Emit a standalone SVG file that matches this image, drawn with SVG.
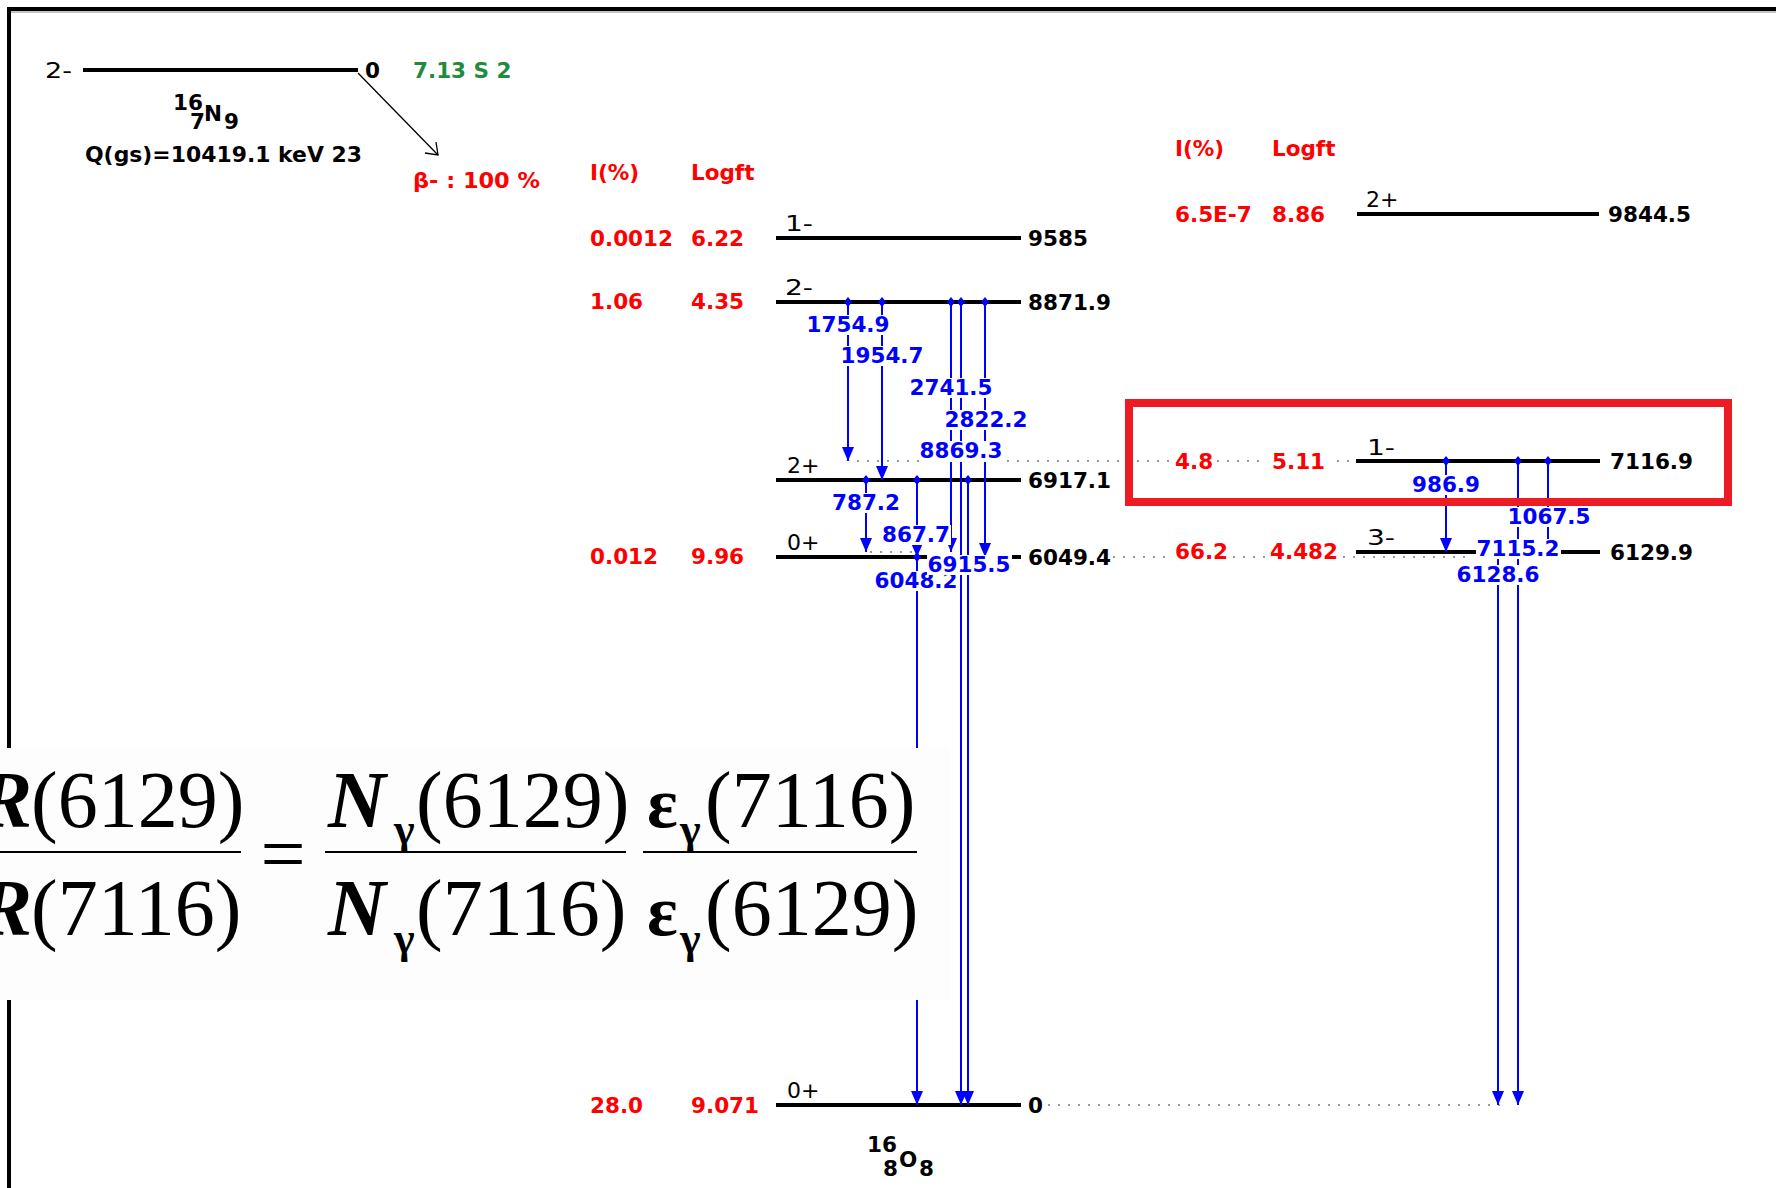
<svg xmlns="http://www.w3.org/2000/svg" width="1776" height="1188" viewBox="0 0 1776 1188">
<style>
  .num{font-family:"DejaVu Sans","Liberation Sans",sans-serif;font-weight:bold;font-size:21.5px;fill:#000}
  .spin{font-family:"DejaVu Sans","Liberation Sans",sans-serif;font-size:22px;fill:#000}
  .red{fill:#ff0000}
  .grn{fill:#228a3c}
  .gl{font-family:"DejaVu Sans","Liberation Sans",sans-serif;font-weight:bold;font-size:21.5px;fill:#0000ff;text-anchor:middle}
  .bg{fill:#fff}
  .lvl{stroke:#000;stroke-width:4}
  .dot{stroke:#999;stroke-width:2;stroke-dasharray:2 8}
  .g{stroke:#0000ff;stroke-width:2;fill:none;marker-start:url(#dia);marker-end:url(#arr)}
  .f{font-family:"Liberation Serif","Times New Roman",serif;font-size:80px;fill:#000}
  .fb{font-family:"Liberation Serif","Times New Roman",serif;font-weight:bold;font-style:italic;font-size:80px;fill:#000}
  .fs{font-family:"Liberation Serif","Times New Roman",serif;font-weight:bold;font-size:44px;fill:#000}
  .fe{font-family:"Liberation Serif","Times New Roman",serif;font-weight:bold;font-size:72px;fill:#000}
</style>
<defs>
  <marker id="arr" viewBox="0 0 14 12" refX="14" refY="6" markerWidth="14" markerHeight="12" markerUnits="userSpaceOnUse" orient="auto">
    <path d="M0,0 L14,6 L0,12 Z" fill="#0000ff"/>
  </marker>
  <marker id="dia" viewBox="0 0 10 8" refX="5" refY="4" markerWidth="10" markerHeight="8" markerUnits="userSpaceOnUse" orient="auto">
    <path d="M0,4 L5,0 L10,4 L5,8 Z" fill="#0000ff"/>
  </marker>
</defs>
<rect width="1776" height="1188" fill="#fff"/>

<g id="frame">
  <line x1="9" y1="9" x2="1776" y2="9" stroke="#000" stroke-width="4"/>
  <line x1="9" y1="12" x2="1776" y2="12" stroke="#888" stroke-width="1"/>
  <line x1="9" y1="7" x2="9" y2="1188" stroke="#000" stroke-width="4"/>
</g>

<g id="parent">
  <text x="45" y="78" class="spin" textLength="27" lengthAdjust="spacingAndGlyphs">2-</text>
  <line x1="83" y1="70" x2="358" y2="70" class="lvl"/>
  <text x="365" y="78" class="num">0</text>
  <text x="413" y="78" class="num grn">7.13 S 2</text>
  <text x="173" y="110" class="num" font-size="20">16</text>
  <text x="190" y="129" class="num" font-size="20">7</text>
  <text x="204" y="121" class="num">N</text>
  <text x="224" y="129" class="num" font-size="20">9</text>
  <text x="85" y="162" class="num" textLength="277" lengthAdjust="spacingAndGlyphs">Q(gs)=10419.1 keV 23</text>
  <line x1="358" y1="73" x2="438" y2="155" stroke="#000" stroke-width="1.3"/>
  <polyline points="425,153 438,155 436,142" fill="none" stroke="#000" stroke-width="1.3"/>
  <text x="413" y="188" class="num red" textLength="127" lengthAdjust="spacingAndGlyphs">β- : 100 %</text>
</g>

<g id="headers">
  <text x="590" y="180" class="num red">I(%)</text>
  <text x="691" y="180" class="num red">Logft</text>
  <text x="1175" y="156" class="num red">I(%)</text>
  <text x="1272" y="156" class="num red">Logft</text>
</g>

<g id="dotted">
  <line x1="857" y1="461" x2="1356" y2="461" class="dot"/>
  <line x1="870" y1="552" x2="917" y2="552" class="dot"/>
  <line x1="1113" y1="557" x2="1473" y2="557" class="dot"/>
  <line x1="1048" y1="1105" x2="1506" y2="1105" class="dot"/>
</g>

<g id="level-9585">
  <text x="590" y="246" class="num red">0.0012</text>
  <text x="691" y="246" class="num red">6.22</text>
  <text x="785" y="231" class="spin" textLength="28" lengthAdjust="spacingAndGlyphs">1-</text>
  <line x1="776" y1="238" x2="1021" y2="238" class="lvl"/>
  <text x="1028" y="246" class="num">9585</text>
</g>
<g id="level-8871.9">
  <text x="590" y="309" class="num red">1.06</text>
  <text x="691" y="309" class="num red">4.35</text>
  <text x="785" y="295" class="spin" textLength="28" lengthAdjust="spacingAndGlyphs">2-</text>
  <line x1="776" y1="302" x2="1021" y2="302" class="lvl"/>
  <text x="1028" y="310" class="num">8871.9</text>
</g>
<g id="level-6917.1">
  <text x="787" y="473" class="spin">2+</text>
  <line x1="776" y1="480" x2="1021" y2="480" class="lvl"/>
  <text x="1028" y="488" class="num">6917.1</text>
</g>
<g id="level-6049.4">
  <text x="590" y="564" class="num red">0.012</text>
  <text x="691" y="564" class="num red">9.96</text>
  <text x="787" y="550" class="spin">0+</text>
  <line x1="776" y1="557" x2="1021" y2="557" class="lvl"/>
  <text x="1028" y="565" class="num">6049.4</text>
</g>
<g id="level-0">
  <text x="590" y="1113" class="num red">28.0</text>
  <text x="691" y="1113" class="num red">9.071</text>
  <text x="787" y="1098" class="spin">0+</text>
  <line x1="776" y1="1105" x2="1021" y2="1105" class="lvl"/>
  <text x="1028" y="1113" class="num">0</text>
  <text x="867" y="1152" class="num" font-size="20">16</text>
  <text x="883" y="1176" class="num" font-size="20">8</text>
  <text x="899" y="1167" class="num">O</text>
  <text x="919" y="1176" class="num" font-size="20">8</text>
</g>
<g id="level-9844.5">
  <rect x="1171" y="204" width="160" height="22" class="bg"/>
  <text x="1175" y="222" class="num red">6.5E-7</text>
  <text x="1272" y="222" class="num red">8.86</text>
  <text x="1366" y="207" class="spin">2+</text>
  <line x1="1357" y1="214" x2="1599" y2="214" class="lvl"/>
  <text x="1608" y="222" class="num">9844.5</text>
</g>
<g id="level-7116.9">
  <rect x="1170" y="450" width="46" height="22" class="bg"/>
  <rect x="1267" y="450" width="62" height="22" class="bg"/>
  <text x="1175" y="469" class="num red">4.8</text>
  <text x="1272" y="469" class="num red">5.11</text>
  <text x="1367" y="455" class="spin" textLength="28" lengthAdjust="spacingAndGlyphs">1-</text>
  <line x1="1356" y1="461" x2="1600" y2="461" class="lvl"/>
  <text x="1610" y="469" class="num">7116.9</text>
</g>
<g id="level-6129.9">
  <rect x="1170" y="540" width="62" height="22" class="bg"/>
  <rect x="1265" y="540" width="78" height="22" class="bg"/>
  <text x="1175" y="559" class="num red">66.2</text>
  <text x="1270" y="559" class="num red">4.482</text>
  <text x="1367" y="545" class="spin" textLength="28" lengthAdjust="spacingAndGlyphs">3-</text>
  <line x1="1356" y1="552" x2="1600" y2="552" class="lvl"/>
  <text x="1610" y="560" class="num">6129.9</text>
</g>

<g id="connectors">
  <line x1="848" y1="302" x2="848" y2="461" class="g"/>
  <line x1="882" y1="302" x2="882" y2="480" class="g"/>
  <line x1="951" y1="302" x2="951" y2="552" class="g"/>
  <line x1="961" y1="302" x2="961" y2="1105" class="g"/>
  <line x1="985" y1="302" x2="985" y2="557" class="g"/>
  <line x1="866" y1="480" x2="866" y2="552" class="g"/>
  <line x1="917" y1="480" x2="917" y2="557" class="g"/>
  <line x1="968" y1="480" x2="968" y2="1105" class="g"/>
  <line x1="917" y1="557" x2="917" y2="1105" class="g"/>
  <line x1="1446" y1="461" x2="1446" y2="552" class="g"/>
  <line x1="1548" y1="461" x2="1548" y2="557" class="g"/>
  <line x1="1518" y1="461" x2="1518" y2="1105" class="g"/>
  <line x1="1498" y1="552" x2="1498" y2="1105" class="g"/>
</g>

<g id="gamma-labels">
  <rect x="806" y="315" width="85" height="20" class="bg"/><text x="848" y="332" class="gl">1754.9</text>
  <rect x="840" y="346" width="85" height="20" class="bg"/><text x="882" y="363" class="gl">1954.7</text>
  <rect x="909" y="378" width="85" height="20" class="bg"/><text x="951" y="395" class="gl">2741.5</text>
  <rect x="944" y="410" width="85" height="20" class="bg"/><text x="986" y="427" class="gl">2822.2</text>
  <rect x="919" y="441" width="85" height="21" class="bg"/><text x="961" y="458" class="gl">8869.3</text>
  <rect x="831" y="493" width="70" height="20" class="bg"/><text x="866" y="510" class="gl">787.2</text>
  <rect x="881" y="525" width="70" height="20" class="bg"/><text x="916" y="542" class="gl">867.7</text>
  <rect x="874" y="571" width="85" height="20" class="bg"/><text x="916" y="588" class="gl">6048.2</text>
  <rect x="927" y="555" width="85" height="20" class="bg"/><text x="969" y="572" class="gl">6915.5</text>
  <rect x="1411" y="475" width="70" height="20" class="bg"/><text x="1446" y="492" class="gl">986.9</text>
  <rect x="1507" y="507" width="85" height="20" class="bg"/><text x="1549" y="524" class="gl">1067.5</text>
  <rect x="1476" y="539" width="85" height="20" class="bg"/><text x="1518" y="556" class="gl">7115.2</text>
  <rect x="1456" y="565" width="85" height="20" class="bg"/><text x="1498" y="582" class="gl">6128.6</text>
</g>

<g id="formula">
  <rect x="0" y="748" width="950" height="252" fill="#fdfdfd"/>
  <text x="32" y="827" class="fb" text-anchor="end">R</text>
  <text x="31" y="827" class="f">(6129)</text>
  <line x1="0" y1="852" x2="241" y2="852" stroke="#000" stroke-width="2"/>
  <text x="32" y="935" class="fb" text-anchor="end">R</text>
  <text x="31" y="935" class="f">(7116)</text>
  <text x="283" y="881" class="f" text-anchor="middle">=</text>
  <text x="328" y="827" class="fb">N</text>
  <text x="394" y="844" class="fs">γ</text>
  <text x="416" y="827" class="f">(6129)</text>
  <line x1="325" y1="852" x2="626" y2="852" stroke="#000" stroke-width="2"/>
  <text x="328" y="935" class="fb">N</text>
  <text x="394" y="953" class="fs">γ</text>
  <text x="416" y="935" class="f">(7116)</text>
  <text x="647" y="827" class="fe">ε</text>
  <text x="680" y="844" class="fs">γ</text>
  <text x="705" y="827" class="f">(7116)</text>
  <line x1="643" y1="852" x2="917" y2="852" stroke="#000" stroke-width="2"/>
  <text x="647" y="935" class="fe">ε</text>
  <text x="680" y="953" class="fs">γ</text>
  <text x="705" y="935" class="f">(6129)</text>
</g>

<g id="highlight">
  <rect x="1129" y="403" width="599" height="99" fill="none" stroke="#ed1c24" stroke-width="8"/>
</g>
</svg>
